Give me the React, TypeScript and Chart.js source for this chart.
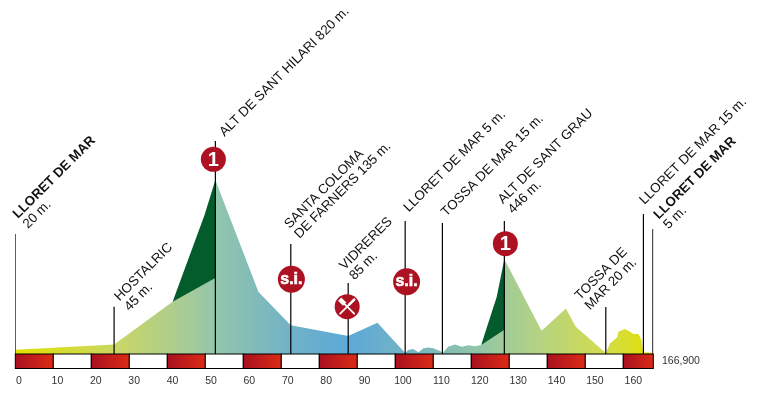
import React, { useEffect, useRef } from "react";
import { Chart, registerables } from "chart.js";

Chart.register(...registerables);

// ---- data -----------------------------------------------------------------
const profileKm = [0, 26, 41.4, 52.6, 52.65, 64, 72.5, 87.6, 95.3, 102.6, 103.4, 104.7, 106.1, 107.4, 108.7, 110, 111.8, 112.5, 113.9, 115.7, 117.5, 119.2, 121, 122.6, 128.6, 128.7, 138.5, 144.9, 147.5, 155.4, 156.5, 158.4, 158.7, 160.4, 161.8, 162.6, 164, 164.8, 165.3, 166.5, 167.9];
const profileM = [20, 45, 246, 358, 820, 292, 135, 85, 147, 5, 19, 24, 8, 27, 31, 27, 14, 5, 34, 45, 34, 41, 36, 42, 113, 446, 110, 215, 129, 5, 50, 79, 105, 118, 105, 94, 94, 66, 6, 8, 3];
const climbOneKm = [41.4, 49.8, 52.65];
const climbOneM = [246, 655, 820];
const climbTwoKm = [122.6, 126.7, 128.7];
const climbTwoM = [42, 270, 446];

const placeKm = [0, 26, 52.65, 72.5, 87.6, 102.6, 112.4, 128.7, 155.4, 165.3, 167.8];
const placeLines = [
  ["LLORET DE MAR", "20 m."],
  ["HOSTALRIC", "45 m."],
  ["ALT DE SANT HILARI 820 m."],
  ["SANTA COLOMA", "DE FARNERS 135 m."],
  ["VIDRERES", "85 m."],
  ["LLORET DE MAR 5 m."],
  ["TOSSA DE MAR 15 m."],
  ["ALT DE SANT GRAU", "446 m."],
  ["TOSSA DE", "MAR 20 m."],
  ["LLORET DE MAR 15 m."],
  ["LLORET DE MAR", "5 m."],
];
const placeBold = [true, false, false, false, false, false, false, false, false, false, true];

const distanceTicks = [0, 10, 20, 30, 40, 50, 60, 70, 80, 90, 100, 110, 120, 130, 140, 150, 160];
const bandEdges = [0, 10, 20, 30, 40, 50, 60, 70, 80, 90, 100, 110, 120, 130, 140, 150, 160, 167.9];
const totalLabel = "166,900";

// ---- layout / style (pixels & colours, separate from the data) --------------
const W = 759;
const H = 394;
const PLOT_L = 15.3;
const PLOT_R = 653.3;
const BASE_Y = 354;
const BAND_B = 368.5;
const PX_PER_M = 0.2122;
const poleTopPx = [234, 306.7, 141, 244, 283, 221, 223, 221, 307, 214, 229];
const textAnchorPx = [
  [18, 219], [119.5, 301.5], [224.5, 137], [289.5, 229], [344.5, 270.5], [408.7, 212.5],
  [446.3, 217], [503, 204.3], [580, 300.5], [644.5, 205], [658.7, 219.7],
];
const badges = [
  { place: 2, dx: -2, cy: 159.3, r: 12.5, kind: "1" },
  { place: 3, dx: 0.6, cy: 279.3, r: 13.5, kind: "s.i." },
  { place: 4, dx: -1, cy: 306.7, r: 12.5, kind: "fork" },
  { place: 5, dx: 1.4, cy: 281.7, r: 13.5, kind: "s.i." },
  { place: 7, dx: 1, cy: 243.7, r: 12.5, kind: "1" },
];
const gradientStops: [number, string][] = [
  [0, "#e2e000"], [0.155, "#c9d763"], [0.25, "#aecd8e"], [0.315, "#93c6ad"], [0.43, "#71b2c6"],
  [0.52, "#5ba9d8"], [0.61, "#73b3c5"], [0.73, "#93c6a6"], [0.82, "#b5d282"], [0.92, "#d0dc50"], [1, "#e3e000"],
];
const FONT = '"Liberation Sans", Arial, sans-serif';

const pts = (xs: number[], ys: number[]) => xs.map((x, i) => ({ x, y: ys[i] }));

const overlay = {
  id: "overlay",
  afterDatasetsDraw(chart: any) {
    const { ctx, scales } = chart;
    const x = scales.x;
    ctx.save();
    // distance band
    for (let i = 0; i < bandEdges.length - 1; i++) {
      const a = x.getPixelForValue(bandEdges[i]);
      const b = x.getPixelForValue(bandEdges[i + 1]);
      if (i % 2 === 0) {
        const g = ctx.createLinearGradient(a, 0, b, 0);
        g.addColorStop(0, "#a8111f");
        g.addColorStop(1, "#dc2b16");
        ctx.fillStyle = g;
      } else ctx.fillStyle = "#ffffff";
      ctx.fillRect(a, BASE_Y, b - a, BAND_B - BASE_Y);
      ctx.strokeStyle = "#000";
      ctx.lineWidth = 1;
      ctx.strokeRect(a, BASE_Y, b - a, BAND_B - BASE_Y);
    }
    // total distance
    ctx.fillStyle = "#333";
    ctx.font = `10.5px ${FONT}`;
    ctx.textAlign = "left";
    ctx.textBaseline = "middle";
    ctx.fillText(totalLabel, 662, 361.5);

    // rotated place names
    ctx.fillStyle = "#111";
    ctx.textBaseline = "alphabetic";
    placeLines.forEach((lines, i) => {
      ctx.save();
      ctx.translate(textAnchorPx[i][0], textAnchorPx[i][1]);
      ctx.rotate(-Math.PI / 4);
      lines.forEach((t, j) => {
        ctx.font = `${placeBold[i] && j === 0 ? "bold " : ""}13.4px ${FONT}`;
        ctx.fillText(t, 0, j * 14);
      });
      ctx.restore();
    });

    // badges
    badges.forEach((b) => {
      const cx = x.getPixelForValue(placeKm[b.place]) + b.dx;
      ctx.fillStyle = "#ac1222";
      ctx.beginPath();
      ctx.arc(cx, b.cy, b.r, 0, Math.PI * 2);
      ctx.fill();
      ctx.fillStyle = "#fff";
      ctx.strokeStyle = "#fff";
      ctx.textAlign = "center";
      ctx.textBaseline = "middle";
      if (b.kind === "1") {
        ctx.font = `bold 20px ${FONT}`;
        ctx.fillText("1", cx, b.cy + 1);
      } else if (b.kind === "s.i.") {
        ctx.font = `bold 16px ${FONT}`;
        ctx.lineWidth = 0.6;
        ctx.strokeText("s.i.", cx, b.cy);
        ctx.fillText("s.i.", cx, b.cy);
      } else {
        ctx.lineCap = "round";
        ctx.lineWidth = 1.8;
        ctx.beginPath();
        // fork handle (from lower right to upper left)
        ctx.moveTo(cx + 7, b.cy + 7);
        ctx.lineTo(cx - 3, b.cy - 3);
        // knife handle (from lower left to upper right)
        ctx.moveTo(cx - 7, b.cy + 7);
        ctx.lineTo(cx + 7, b.cy - 7);
        ctx.stroke();
        // knife blade
        ctx.lineWidth = 2.6;
        ctx.beginPath();
        ctx.moveTo(cx + 2, b.cy - 2);
        ctx.lineTo(cx + 7, b.cy - 7);
        ctx.stroke();
        // fork head
        ctx.lineWidth = 4.5;
        ctx.lineCap = "butt";
        ctx.beginPath();
        ctx.moveTo(cx - 2.5, b.cy - 2.5);
        ctx.lineTo(cx - 7.5, b.cy - 7.5);
        ctx.stroke();
      }
    });
    ctx.restore();
  },
};

export default function App() {
  const ref = useRef<HTMLCanvasElement>(null);
  useEffect(() => {
    document.body.style.margin = "0";
    const yMax = BASE_Y / PX_PER_M;
    const yMin = -(BAND_B - BASE_Y) / PX_PER_M;
    const poleData: any[] = [];
    placeKm.forEach((k, i) => {
      poleData.push({ x: k, y: 0 }, { x: k, y: (BASE_Y - poleTopPx[i]) / PX_PER_M }, { x: k, y: null });
    });
    const chart = new Chart(ref.current as HTMLCanvasElement, {
      type: "line",
      data: {
        datasets: [
          {
            label: "poles",
            data: poleData,
            borderColor: "#000",
            borderWidth: 1.2,
            pointRadius: 0,
            fill: false,
            spanGaps: false,
            order: 0,
          },
          {
            label: "Profile",
            data: pts(profileKm, profileM),
            borderWidth: 0,
            pointRadius: 0,
            tension: 0,
            fill: "origin",
            order: 1,
            backgroundColor: (c: any) => {
              const a = c.chart.chartArea;
              if (!a) return "#8fc6b5";
              const g = c.chart.ctx.createLinearGradient(a.left, 0, a.right, 0);
              gradientStops.forEach(([p, col]) => g.addColorStop(p, col));
              return g;
            },
          },
          {
            label: "Climb 1",
            data: pts(climbOneKm, climbOneM),
            borderWidth: 0,
            pointRadius: 0,
            fill: "origin",
            backgroundColor: "#045c2d",
            order: 2,
          },
          {
            label: "Climb 2",
            data: pts(climbTwoKm, climbTwoM),
            borderWidth: 0,
            pointRadius: 0,
            fill: "origin",
            backgroundColor: "#045c2d",
            order: 2,
          },
        ],
      },
      options: {
        animation: false,
        responsive: false,
        events: [],
        layout: { padding: { left: PLOT_L, right: W - PLOT_R, top: 0, bottom: 0 } },
        plugins: { legend: { display: false }, tooltip: { enabled: false } },
        scales: {
          x: { type: "linear", display: false, min: 0, max: 167.9 },
          xt: {
            type: "linear",
            position: "bottom",
            axis: "x",
            min: -0.96,
            max: 165.2,
            grid: { display: false, drawTicks: false },
            border: { display: false },
            afterBuildTicks: (s: any) => {
              s.ticks = distanceTicks.map((value) => ({ value }));
            },
            afterFit: (s: any) => {
              s.height = H - BAND_B;
              s.paddingLeft = 0;
              s.paddingRight = 0;
            },
            ticks: {
              autoSkip: false,
              maxRotation: 0,
              minRotation: 0,
              padding: 6,
              color: "#333",
              font: { family: FONT, size: 10.5 },
              callback: (v: any) => String(v),
            },
          },
          y: { type: "linear", display: false, min: yMin, max: yMax },
        },
      } as any,
      plugins: [overlay],
    });
    return () => chart.destroy();
  }, []);
  return <canvas ref={ref} width={W} height={H} style={{ display: "block", width: W, height: H }} />;
}
